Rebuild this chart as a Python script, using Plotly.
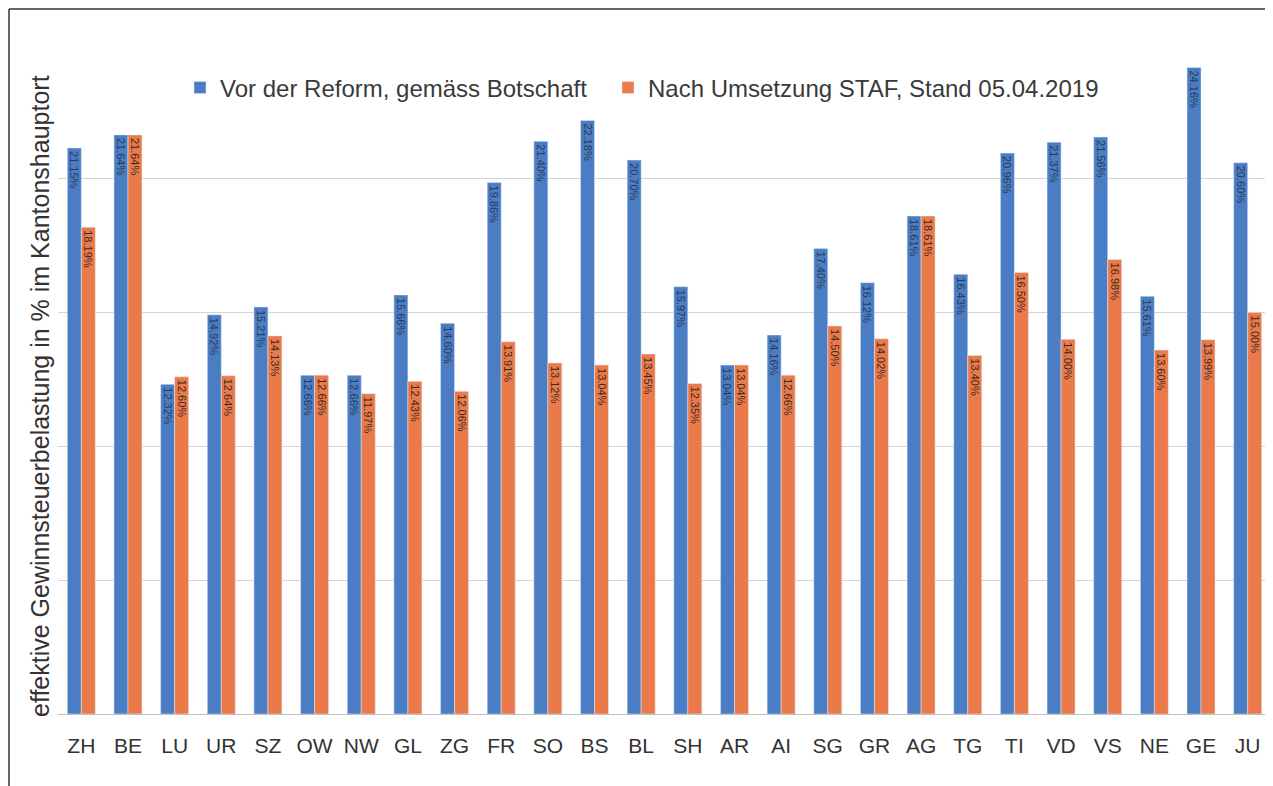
import plotly.graph_objects as go

cantons = ["ZH", "BE", "LU", "UR", "SZ", "OW", "NW", "GL", "ZG", "FR", "SO", "BS", "BL",
           "SH", "AR", "AI", "SG", "GR", "AG", "TG", "TI", "VD", "VS", "NE", "GE", "JU"]
vor = [21.15, 21.64, 12.32, 14.92, 15.21, 12.66, 12.66, 15.66, 14.60, 19.86, 21.40, 22.18, 20.70,
       15.97, 13.04, 14.16, 17.40, 16.12, 18.61, 16.43, 20.96, 21.37, 21.56, 15.61, 24.16, 20.60]
nach = [18.19, 21.64, 12.60, 12.64, 14.13, 12.66, 11.97, 12.43, 12.06, 13.91, 13.12, 13.04, 13.45,
        12.35, 13.04, 12.66, 14.50, 14.02, 18.61, 13.40, 16.50, 14.00, 16.98, 13.60, 13.99, 15.00]

name_vor = "Vor der Reform, gemäss Botschaft"
name_nach = "Nach Umsetzung STAF, Stand 05.04.2019"

# figure sits at (8, 8) in the page
W, H = 1265, 778
L, R, T, B = 50, 2, 37, 72
PW, PH = W - L - R, H - T - B


def px(xf):
    return (xf - L) / PW


def py(yf):
    return (H - B - yf) / PH


fig = go.Figure()
fig.add_trace(go.Bar(
    x=cantons, y=vor, name=name_vor, marker_color="#4a7dc4", legend="legend",
    text=[f"{v:.2f}%" for v in vor], textposition="inside", insidetextanchor="end",
    textangle=90, textfont=dict(size=11, color="#2a3b55", family="Arial"),
    constraintext="none",
))
fig.add_trace(go.Bar(
    x=cantons, y=nach, name=name_nach, marker_color="#eb7a4a", legend="legend2",
    text=[f"{v:.2f}%" for v in nach], textposition="inside", insidetextanchor="end",
    textangle=90, textfont=dict(size=11, color="#3a2a22", family="Arial"),
    constraintext="none",
))

legend_style = dict(orientation="h", xanchor="left", yanchor="middle", y=py(80),
                    font=dict(size=24, color="#3a3a3a"), bgcolor="rgba(0,0,0,0)",
                    itemwidth=30)

fig.update_layout(
    width=W, height=H,
    margin=dict(l=L, r=R, t=T, b=B, autoexpand=False),
    paper_bgcolor="white", plot_bgcolor="white",
    barmode="group", bargap=0.4, bargroupgap=0,
    font=dict(family="Arial, Liberation Sans", color="#333333"),
    showlegend=True,
    legend=dict(x=px(172), **legend_style),
    legend2=dict(x=px(600), **legend_style),
    xaxis=dict(tickfont=dict(size=21, color="#333333"), showgrid=False,
               showline=True, linecolor="#bfbfbf", ticks="", ticklabelstandoff=13),
    yaxis=dict(range=[0, 25], dtick=5, showticklabels=False, showgrid=True,
               gridcolor="#d4d4d4", gridwidth=1, zeroline=False, ticks=""),
)

fig.add_annotation(
    text="effektive Gewinnsteuerbelastung in % im Kantonshauptort",
    xref="paper", yref="paper",
    x=px(32), y=py(388),
    textangle=-90, showarrow=False, font=dict(size=25, color="#333333"),
    xanchor="center", yanchor="middle",
)

# scanned page frame
fig.add_shape(type="line", xref="paper", yref="paper",
              x0=px(1), x1=px(W), y0=py(1), y1=py(1),
              line=dict(color="#333333", width=1.5))
fig.add_shape(type="line", xref="paper", yref="paper",
              x0=px(1), x1=px(1), y0=py(H), y1=py(1),
              line=dict(color="#333333", width=1.5))

fig.write_html("out.html")
